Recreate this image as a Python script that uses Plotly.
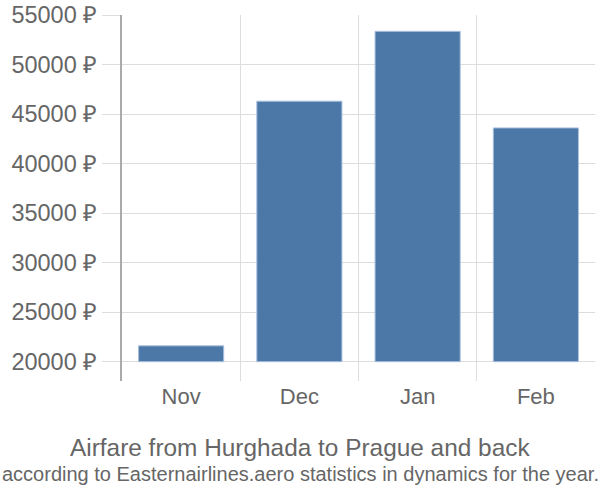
import plotly.graph_objects as go

months = ["Nov", "Dec", "Jan", "Feb"]
prices = [21600, 46300, 53350, 43600]
base_value = 20000
y_ticks = [20000, 25000, 30000, 35000, 40000, 45000, 50000, 55000]
y_tick_labels = [f"{v} ₽" for v in y_ticks]
title_line1 = "Airfare from Hurghada to Prague and back"
title_line2 = "according to Easternairlines.aero statistics in dynamics for the year."

fig = go.Figure()
fig.add_trace(go.Bar(
    x=months,
    y=[p - base_value for p in prices],
    base=base_value,
    marker=dict(color="#4c78a8", line=dict(color="#a9c1de", width=1)),
    width=0.72,
    hoverinfo="skip",
))

fig.update_layout(
    width=600, height=500,
    margin=dict(l=122, r=5, t=15, b=119),
    plot_bgcolor="white", paper_bgcolor="white",
    showlegend=False,
    font=dict(family="Liberation Sans, Arial, sans-serif", color="#666666", size=20),
    xaxis=dict(
        type="category", tickson="boundaries", automargin=False,
        showgrid=True, gridcolor="#dddddd", gridwidth=1,
        ticks="", showline=False, zeroline=False,
        tickfont=dict(size=22, color="#666666"),
    ),
    yaxis=dict(
        range=[18050, 55000], automargin=False,
        tickvals=y_ticks, ticktext=y_tick_labels,
        showgrid=True, gridcolor="#dddddd", gridwidth=1,
        ticks="outside", ticklen=18, tickcolor="#dddddd",
        showline=True, linecolor="#aaaaaa", linewidth=2,
        zeroline=False,
        tickfont=dict(size=23.5, color="#666666"),
    ),
)

cx = (300 - 122) / 473
fig.add_annotation(text=title_line1, xref="paper", yref="paper", x=cx, y=(381 - 447) / 366,
                   xanchor="center", yanchor="middle", showarrow=False,
                   font=dict(size=24.4, color="#666666"))
fig.add_annotation(text=title_line2, xref="paper", yref="paper", x=cx, y=(381 - 474) / 366,
                   xanchor="center", yanchor="middle", showarrow=False,
                   font=dict(size=20, color="#666666"))

fig.write_html("out.html")
